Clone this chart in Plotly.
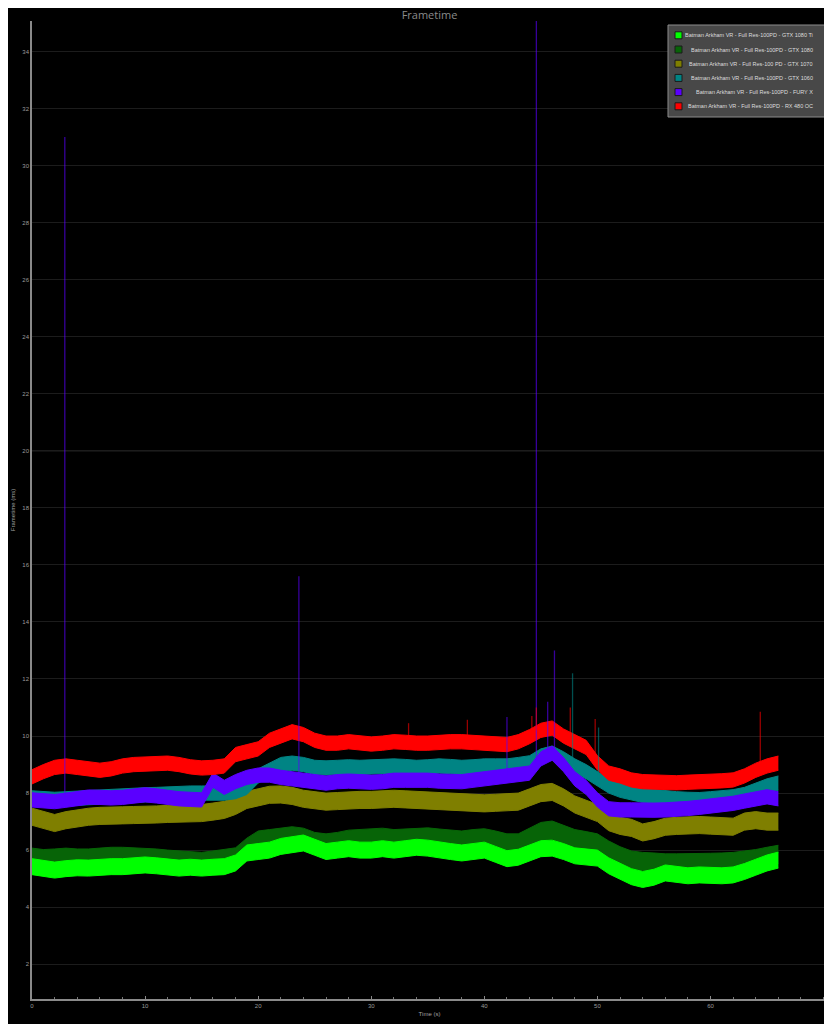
import plotly.graph_objects as go

# ---------------- data ----------------
TIME_S = list(range(0, 67))  # seconds

SERIES_NAMES = [
    "Batman Arkham VR - Full Res-100PD - GTX 1080 Ti",
    "Batman Arkham VR - Full Res-100PD - GTX 1080",
    "Batman Arkham VR - Full Res-100 PD - GTX 1070",
    "Batman Arkham VR - Full Res-100PD - GTX 1060",
    "Batman Arkham VR - Full Res-100PD - FURY X",
    "Batman Arkham VR - Full Res-100PD - RX 480 OC",
]
SERIES_COLORS = ["#00ff00", "#076407", "#7f7f00", "#008484", "#5a00ff", "#ff0000"]

# typical frame-time level (ms) per second
GTX1080TI = [5.42, 5.35, 5.30, 5.35, 5.38, 5.37, 5.40, 5.42, 5.42, 5.45, 5.48, 5.45, 5.40, 5.37, 5.40, 5.37,
             5.40, 5.42, 5.55, 5.90, 5.95, 6.00, 6.13, 6.20, 6.25, 6.10, 5.95, 6.00, 6.05, 6.00, 6.00, 6.05,
             6.00, 6.05, 6.10, 6.07, 6.00, 5.95, 5.90, 5.95, 6.00, 5.85, 5.70, 5.75, 5.90, 6.05, 6.07, 5.95,
             5.80, 5.75, 5.72, 5.45, 5.25, 5.07, 4.97, 5.05, 5.20, 5.15, 5.10, 5.13, 5.12, 5.10, 5.13, 5.25,
             5.40, 5.55, 5.65]
GTX1080 = [5.75, 5.70, 5.72, 5.75, 5.72, 5.72, 5.75, 5.78, 5.78, 5.76, 5.76, 5.72, 5.68, 5.65, 5.62, 5.60,
           5.65, 5.70, 5.76, 6.10, 6.35, 6.40, 6.46, 6.50, 6.45, 6.30, 6.25, 6.30, 6.38, 6.40, 6.43, 6.45,
           6.40, 6.42, 6.45, 6.46, 6.42, 6.38, 6.35, 6.40, 6.43, 6.35, 6.25, 6.25, 6.45, 6.65, 6.70, 6.55,
           6.40, 6.33, 6.25, 6.00, 5.80, 5.65, 5.60, 5.58, 5.55, 5.55, 5.55, 5.55, 5.57, 5.58, 5.60, 5.65,
           5.70, 5.78, 5.85]
GTX1070 = [7.17, 7.05, 6.95, 7.05, 7.12, 7.17, 7.20, 7.20, 7.22, 7.23, 7.23, 7.25, 7.27, 7.28, 7.30, 7.30,
           7.35, 7.41, 7.55, 7.76, 7.85, 7.94, 7.95, 7.90, 7.80, 7.75, 7.70, 7.72, 7.75, 7.76, 7.76, 7.78,
           7.80, 7.78, 7.76, 7.76, 7.72, 7.70, 7.68, 7.66, 7.64, 7.66, 7.68, 7.70, 7.85, 8.00, 8.04, 7.85,
           7.60, 7.45, 7.30, 6.98, 6.85, 6.78, 6.62, 6.70, 6.82, 6.85, 6.87, 6.88, 6.86, 6.84, 6.82, 7.00,
           7.05, 7.00, 7.00]
GTX1060 = [7.83, 7.80, 7.78, 7.80, 7.82, 7.85, 7.88, 7.90, 7.90, 7.92, 7.94, 7.95, 7.97, 7.98, 8.00, 8.00,
           8.00, 8.00, 8.05, 8.20, 8.60, 8.80, 9.00, 9.05, 9.00, 8.90, 8.88, 8.90, 8.92, 8.90, 8.92, 8.95,
           8.95, 8.93, 8.90, 8.92, 8.95, 8.93, 8.90, 8.92, 8.95, 8.95, 8.95, 9.00, 9.06, 9.30, 9.40, 9.20,
           8.95, 8.75, 8.50, 8.25, 8.10, 8.00, 7.92, 7.88, 7.83, 7.80, 7.78, 7.77, 7.80, 7.83, 7.87, 7.95,
           8.10, 8.25, 8.35]
FURYX = [7.76, 7.72, 7.70, 7.75, 7.80, 7.86, 7.85, 7.83, 7.85, 7.90, 7.94, 7.90, 7.85, 7.80, 7.78, 7.76,
         8.45, 8.20, 8.40, 8.55, 8.63, 8.63, 8.55, 8.50, 8.45, 8.40, 8.35, 8.40, 8.42, 8.40, 8.38, 8.40,
         8.45, 8.45, 8.46, 8.45, 8.42, 8.40, 8.40, 8.45, 8.50, 8.55, 8.60, 8.63, 8.70, 9.20, 9.40, 9.00,
         8.50, 8.20, 7.76, 7.45, 7.41, 7.41, 7.40, 7.40, 7.41, 7.43, 7.46, 7.50, 7.55, 7.60, 7.64, 7.72,
         7.80, 7.87, 7.80]
RX480OC = [8.57, 8.75, 8.90, 8.95, 8.90, 8.85, 8.80, 8.85, 8.95, 9.00, 9.02, 9.05, 9.05, 9.00, 8.92, 8.88,
           8.90, 8.95, 9.35, 9.45, 9.55, 9.85, 10.00, 10.15, 10.05, 9.85, 9.75, 9.75, 9.80, 9.75, 9.72, 9.75,
           9.80, 9.78, 9.75, 9.75, 9.78, 9.80, 9.80, 9.78, 9.75, 9.72, 9.70, 9.80, 9.98, 10.20, 10.28, 10.00,
           9.80, 9.60, 9.06, 8.70, 8.60, 8.46, 8.40, 8.38, 8.36, 8.36, 8.38, 8.39, 8.40, 8.43, 8.46, 8.60,
           8.80, 8.95, 9.05]
SERIES_VALUES = [GTX1080TI, GTX1080, GTX1070, GTX1060, FURYX, RX480OC]

# frame-to-frame jitter half-width (ms) per series
JITTER_MS = [0.28, 0.32, 0.30, 0.25, 0.25, 0.25]

# single-frame spikes: series index, time (s), peak frametime (ms)
SPIKE_SERIES = [4, 4, 4, 4, 4, 4, 3, 3, 5, 5, 5, 5, 5, 5, 5]
SPIKE_TIME = [2.9, 23.6, 42.0, 44.6, 45.6, 46.2, 47.8, 50.1, 33.3, 38.5, 44.6, 47.6, 49.8, 64.4, 44.2]
SPIKE_PEAK = [31.0, 15.6, 10.67, 36.0, 11.2, 13.0, 12.2, 10.3, 10.45, 10.57, 11.0, 11.0, 10.6, 10.85, 10.7]

Y_TICKS = list(range(2, 35, 2))
X_TICKS = [0, 10, 20, 30, 40, 50, 60]

# ---------------- figure ----------------
# the page body has an 8 px margin, so the figure is sized / offset to land
# the plot area on the same pixels as the reference screenshot
OFF = 8
W, H = 832 - OFF, 1024 - OFF
ML, MR, MT, MB = 32 - OFF, 5, 21 - OFF, 25


def px(xp):  # reference screenshot x pixel -> paper fraction
    return (xp - OFF - ML) / (W - ML - MR)


def py(yp):  # reference screenshot y pixel -> paper fraction
    return (H - MB - (yp - OFF)) / (H - MT - MB)


fig = go.Figure()

DRAW_ORDER = [1, 2, 3, 0, 4, 5]
for i in DRAW_ORDER:
    vals = SERIES_VALUES[i]
    col = SERIES_COLORS[i]
    lo = [v - JITTER_MS[i] for v in vals]
    hi = [v + JITTER_MS[i] for v in vals]
    fig.add_trace(go.Scatter(x=TIME_S, y=lo, mode="lines", line=dict(color=col, width=1),
                             showlegend=False, hoverinfo="skip"))
    fig.add_trace(go.Scatter(x=TIME_S, y=hi, mode="lines", line=dict(color=col, width=1),
                             fill="tonexty", fillcolor=col, name=SERIES_NAMES[i], showlegend=False))

# spikes
for s in range(len(SERIES_NAMES)):
    xs, ys = [], []
    for k, si in enumerate(SPIKE_SERIES):
        if si != s:
            continue
        t = SPIKE_TIME[k]
        base = SERIES_VALUES[s][int(round(t))]
        xs += [t, t, None]
        ys += [base, SPIKE_PEAK[k], None]
    if xs:
        fig.add_trace(go.Scatter(x=xs, y=ys, mode="lines", opacity=0.6,
                                 line=dict(color=SERIES_COLORS[s], width=1.3),
                                 showlegend=False, hoverinfo="skip"))

# highlighted 20 ms line
fig.add_shape(type="line", xref="paper", x0=0, x1=1, yref="y", y0=20, y1=20,
              line=dict(color="#333333", width=1), layer="below")

# manual legend (right-aligned labels like the reference)
LEG_X0, LEG_X1, LEG_Y0, LEG_Y1 = 668, 829, 25, 117
fig.add_shape(type="rect", xref="paper", yref="paper",
              x0=px(LEG_X0), x1=px(LEG_X1), y0=py(LEG_Y1), y1=py(LEG_Y0),
              fillcolor="#484848", line=dict(color="#8c8c8c", width=1), layer="above")
for k, name in enumerate(SERIES_NAMES):
    cy = 35.3 + k * 14.2
    fig.add_shape(type="rect", xref="paper", yref="paper",
                  x0=px(675), x1=px(682), y0=py(cy + 3.5), y1=py(cy - 3.5),
                  fillcolor=SERIES_COLORS[k], line=dict(color="#1a1a1a", width=1), layer="above")
    fig.add_annotation(xref="paper", yref="paper", x=px(815), y=py(cy), xanchor="right",
                       yanchor="middle", text=name, showarrow=False,
                       font=dict(family="Liberation Sans", size=5.5, color="#dddddd"))

fig.update_layout(
    width=W, height=H,
    margin=dict(l=ML, r=MR, t=MT, b=MB, autoexpand=False),
    paper_bgcolor="#000000", plot_bgcolor="#000000",
    showlegend=False,
    title=dict(text="Frametime", x=0.5, xref="paper", y=1 - (15 - OFF) / H, yanchor="middle",
               font=dict(family="Open Sans", size=11, color="#8a8a8a")),
    font=dict(family="Liberation Sans", size=6, color="#9a9a9a"),
)
fig.update_xaxes(range=[0, 70.3], tickvals=X_TICKS, showgrid=False, zeroline=False,
                 showline=True, linecolor="#8a8a8a", linewidth=1.5, automargin=False,
                 ticks="inside", ticklen=3, tickcolor="#8a8a8a",
                 minor=dict(dtick=2, ticks="inside", ticklen=2, tickcolor="#777777"),
                 tickfont=dict(size=6, color="#9a9a9a"),
                 title=dict(text="Time (s)", font=dict(size=6, color="#a0a0a0"), standoff=4))
fig.update_yaxes(range=[0.78, 35.07], tickvals=Y_TICKS, showgrid=True, gridcolor="#1c1c1c",
                 gridwidth=1, zeroline=False, showline=True, linecolor="#8a8a8a", linewidth=1.5,
                 automargin=False, ticks="", tickfont=dict(size=6, color="#9a9a9a"),
                 title=dict(text="Frametime (ms)", font=dict(size=6, color="#a0a0a0"), standoff=6))

fig.write_html("out.html")
